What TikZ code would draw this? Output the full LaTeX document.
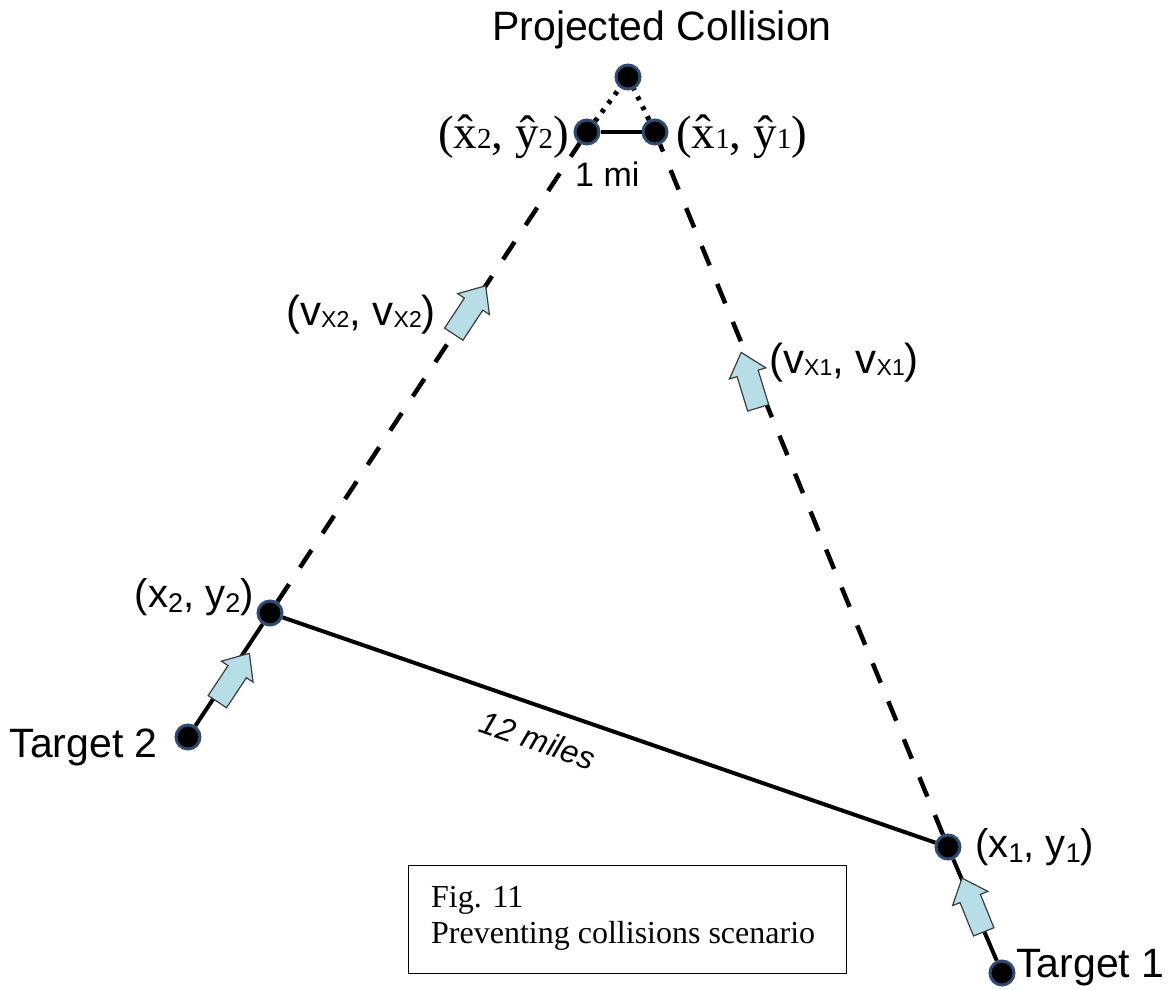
\documentclass[tikz,border=0pt]{standalone}
\usepackage{fontspec}
\setmainfont{Liberation Sans}
\newfontfamily\timesfont{Liberation Serif}
\usetikzlibrary{calc}
\definecolor{dotedge}{RGB}{45,75,115}
\definecolor{arrowfill}{RGB}{183,222,230}
\definecolor{arrowedge}{RGB}{60,60,60}
\newcommand\csub[1]{\raisebox{-5pt}{\fontsize{27}{27}\selectfont #1}}
\newcommand\vsub[1]{\raisebox{-2pt}{\fontsize{23}{23}\selectfont #1}}
\newcommand\hdig[1]{{\fontsize{29}{29}\selectfont #1}}
\newcommand\blockarr{\draw[blockarrow] (-29,-11) -- (7,-11) -- (7,-19) -- (29,0) -- (7,19) -- (7,11) -- (-29,11) -- cycle;}
\begin{document}
\begin{tikzpicture}[x=1pt,y=-1pt,
  dot/.style={circle, fill=black, draw=dotedge, line width=3pt, minimum size=24pt, inner sep=0pt},
  link/.style={line width=4pt, black},
  dashlink/.style={line width=4.5pt, black, dash pattern=on 21pt off 20pt},
  dotlink/.style={line width=5pt, black, dash pattern=on 4pt off 7pt},
  blockarrow/.style={fill=arrowfill, draw=arrowedge, line width=1.2pt, line join=miter},
  lbl/.style={inner sep=0pt, font=\fontsize{40}{42}\selectfont},
  vlbl/.style={inner sep=0pt, font=\fontsize{42}{44}\selectfont},
  hlbl/.style={inner sep=0pt, font=\timesfont\fontsize{47}{50}\selectfont},
  caption/.style={inner sep=0pt, anchor=base west, font=\timesfont\fontsize{32}{36}\selectfont},
]
\useasboundingbox (0,0) rectangle (1169,989);

% dots
\node[dot] (pcdot) at (628,77) {};
\node[dot] (h2) at (587,132) {};
\node[dot] (h1) at (655,132) {};
\node[dot] (x2) at (270,613) {};
\node[dot] (t2) at (188,737) {};
\node[dot] (x1) at (948,847) {};
\node[dot] (t1) at (1002,973) {};

% connectors
\draw[link] (t2) -- (x2);
\draw[link] (x2) -- (x1);
\draw[link] (t1) -- (x1);
\draw[link] (h2) -- (h1);
\draw[dashlink] (x2) -- (h2);
\draw[dashlink] (x1) -- (h1);
\draw[dotlink] (h2) -- (pcdot);
\draw[dotlink] (h1) -- (pcdot);

% block arrows
\begin{scope}[shift={($(t2)!0.48!(x2)+(6,0)$)}, rotate=56.5] \blockarr \end{scope}
\begin{scope}[shift={($(x2)!0.63!(h2)$)}, rotate=56.6] \blockarr \end{scope}
\begin{scope}[shift={($(x1)!0.653!(h1)+(-7,0)$)}, rotate=107] \blockarr \end{scope}
\begin{scope}[shift={($(t1)!0.54!(x1)$)}, rotate=112] \blockarr \end{scope}

% labels
\node[inner sep=0pt, anchor=base west, font=\fontsize{41}{42}\selectfont] (pc) at (492,40) {Projected Collision};
\node[hlbl, anchor=base east] (lh2) at (569,148) {(\^{x}\hdig{2}, \^{y}\hdig{2})};
\node[hlbl, anchor=base west] (lh1) at (676,148) {(\^{x}\hdig{1}, \^{y}\hdig{1})};
\node[inner sep=0pt, anchor=base west, font=\fontsize{34}{35}\selectfont] (mi) at (575,186) {1 mi};
\node[vlbl, anchor=base east] (lv2) at (436,325) {(v\vsub{X2}, v\vsub{X2})};
\node[vlbl, anchor=base west] (lv1) at (769,373) {(v\vsub{X1}, v\vsub{X1})};
\node[lbl, anchor=base east] (lx2) at (254,607) {(x\csub{2}, y\csub{2})};
\node[lbl, anchor=base west] (lx1) at (975,857) {(x\csub{1}, y\csub{1})};
\node[lbl, font=\fontsize{41}{42}\selectfont, anchor=base east] (lt2) at (158,757) {Target 2};
\node[lbl, font=\fontsize{41}{42}\selectfont, anchor=base west] (lt1) at (1016,977) {Target 1};
\node[inner sep=0pt, rotate=-19, font=\itshape\fontsize{32}{33}\selectfont] (ml) at (538,740) {12 miles};

% caption box
\node[draw, line width=1.2pt, minimum width=438pt, minimum height=108pt, inner sep=0pt, anchor=north west] (figbox) at (408,865) {};
\node[caption] (cap1) at (431,907) {Fig. 11};
\node[caption] (cap2) at (431,943) {Preventing collisions scenario};
\end{tikzpicture}
\end{document}
